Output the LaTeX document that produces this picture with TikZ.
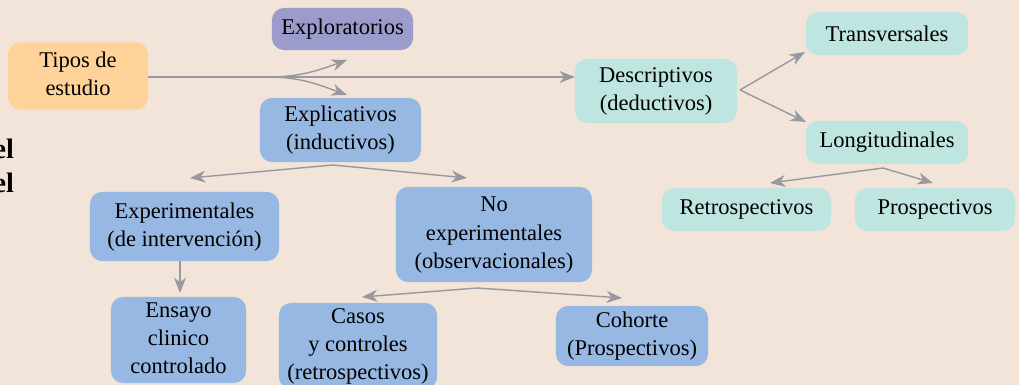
\documentclass[tikz,border=0pt]{standalone}
\usepackage{fontspec}
\setmainfont{Liberation Serif}
\usetikzlibrary{arrows,arrows.meta,positioning,calc}
\definecolor{bgColor}{RGB}{242,228,216}
\definecolor{tipColor}{RGB}{255,210,154}
\definecolor{expColor}{RGB}{155,155,204}
\definecolor{indColor}{RGB}{150,184,226}
\definecolor{dedColor}{RGB}{191,229,224}
\definecolor{flColor}{RGB}{152,152,158}
\tikzset{
	caja/.style={rounded corners=3mm, outer sep=0, inner sep=0, fill=#1,
		font=\fontsize{16}{20}\selectfont},
	flecha/.style={draw=flColor, line width=1pt,
		-{Stealth[length=11pt,width=8.5pt,inset=3.5pt]}},
}

\begin{document}
\begin{tikzpicture}[x=0.025cm, y=-0.025cm]
				\fill[bgColor] (0,0) rectangle (1019,385);
				\useasboundingbox (0,0) rectangle (1019,385);
				\node[anchor=east, font=\bfseries\fontsize{20}{24}\selectfont] (el1) at (19,149) {el};
				\node[anchor=east, font=\bfseries\fontsize{20}{24}\selectfont] (el2) at (19,183) {el};
				
				\node[caja=tipColor, minimum width=3.5cm, minimum height=1.675cm] (tipos) at (78,76) {\begin{tabular}{c} Tipos de \\ estudio \end{tabular}};
				\node[caja=expColor, minimum width=3.525cm, minimum height=1.05cm] (explo) at (342.5,29) {Exploratorios};
				\node[caja=indColor, minimum width=4.025cm, minimum height=1.6cm] (expl) at (340.5,130) {\begin{tabular}{c} Explicativos \\ (inductivos) \end{tabular}};
				\node[caja=dedColor, minimum width=4.05cm, minimum height=1.6cm] (desc) at (656,91) {\begin{tabular}{c} Descriptivos \\ (deductivos) \end{tabular}};
				
				\node[caja=dedColor, minimum width=4.05cm, minimum height=1.075cm] (trans) at (887,33.5) {Transversales};
				\node[caja=dedColor, minimum width=4.05cm, minimum height=1.075cm] (longi) at (887,142.5) {Longitudinales};
				\node[caja=dedColor, minimum width=4.225cm, minimum height=1.075cm] (retro) at (746.5,209.5) {Retrospectivos};
				\node[caja=dedColor, minimum width=4.0cm, minimum height=1.075cm] (prosp) at (935,209.5) {Prospectivos};
				
				\node[caja=indColor, minimum width=4.725cm, minimum height=1.725cm] (exper) at (184.5,226.5) {\begin{tabular}{c} Experimentales \\ (de intervención) \end{tabular}};
				\node[caja=indColor, minimum width=4.9cm, minimum height=2.375cm] (noexp) at (494,234.5) {\begin{tabular}{c} No \\ experimentales \\ (observacionales) \end{tabular}};
				\node[caja=indColor, minimum width=3.375cm, minimum height=2.15cm] (ensayo) at (178.5,340) {\begin{tabular}{c} Ensayo \\ clinico \\ controlado \end{tabular}};
				\node[caja=indColor, minimum width=3.9cm, minimum height=2.15cm] (casos) at (358,346) {\begin{tabular}{c} Casos \\ y controles \\ (retrospectivos) \end{tabular}};
				\node[caja=indColor, minimum width=3.8cm, minimum height=1.5cm] (cohorte) at (632,336) {\begin{tabular}{c} Cohorte \\ (Prospectivos) \end{tabular}};
				
				% puntos de ramificacion
				\coordinate (r0) at (268,77);
				\coordinate (r1) at (333,165);
				\coordinate (r2) at (477,288);
				\coordinate (r3) at (740,90);
				\coordinate (r4) at (883,168);
				
				\draw[flecha] (tipos.east |- r0) -- (desc.west |- r0);
				\draw[flecha] (r0) to[out=0,in=200] (347,60);
				\draw[flecha] (r0) to[out=0,in=160] (347,95);
				\draw[flecha] (r1) -- (190,178);
				\draw[flecha] (r1) -- (467,178);
				\draw[flecha] (exper.south -| 180,0) -- (180,293);
				\draw[flecha] (r2) -- (362,297);
				\draw[flecha] (r2) -- (622,298);
				\draw[flecha] (r3) -- (805,52);
				\draw[flecha] (r3) -- (806,122);
				\draw[flecha] (r4) -- (770,183);
				\draw[flecha] (r4) -- (933,183);
			\end{tikzpicture}
\end{document}
